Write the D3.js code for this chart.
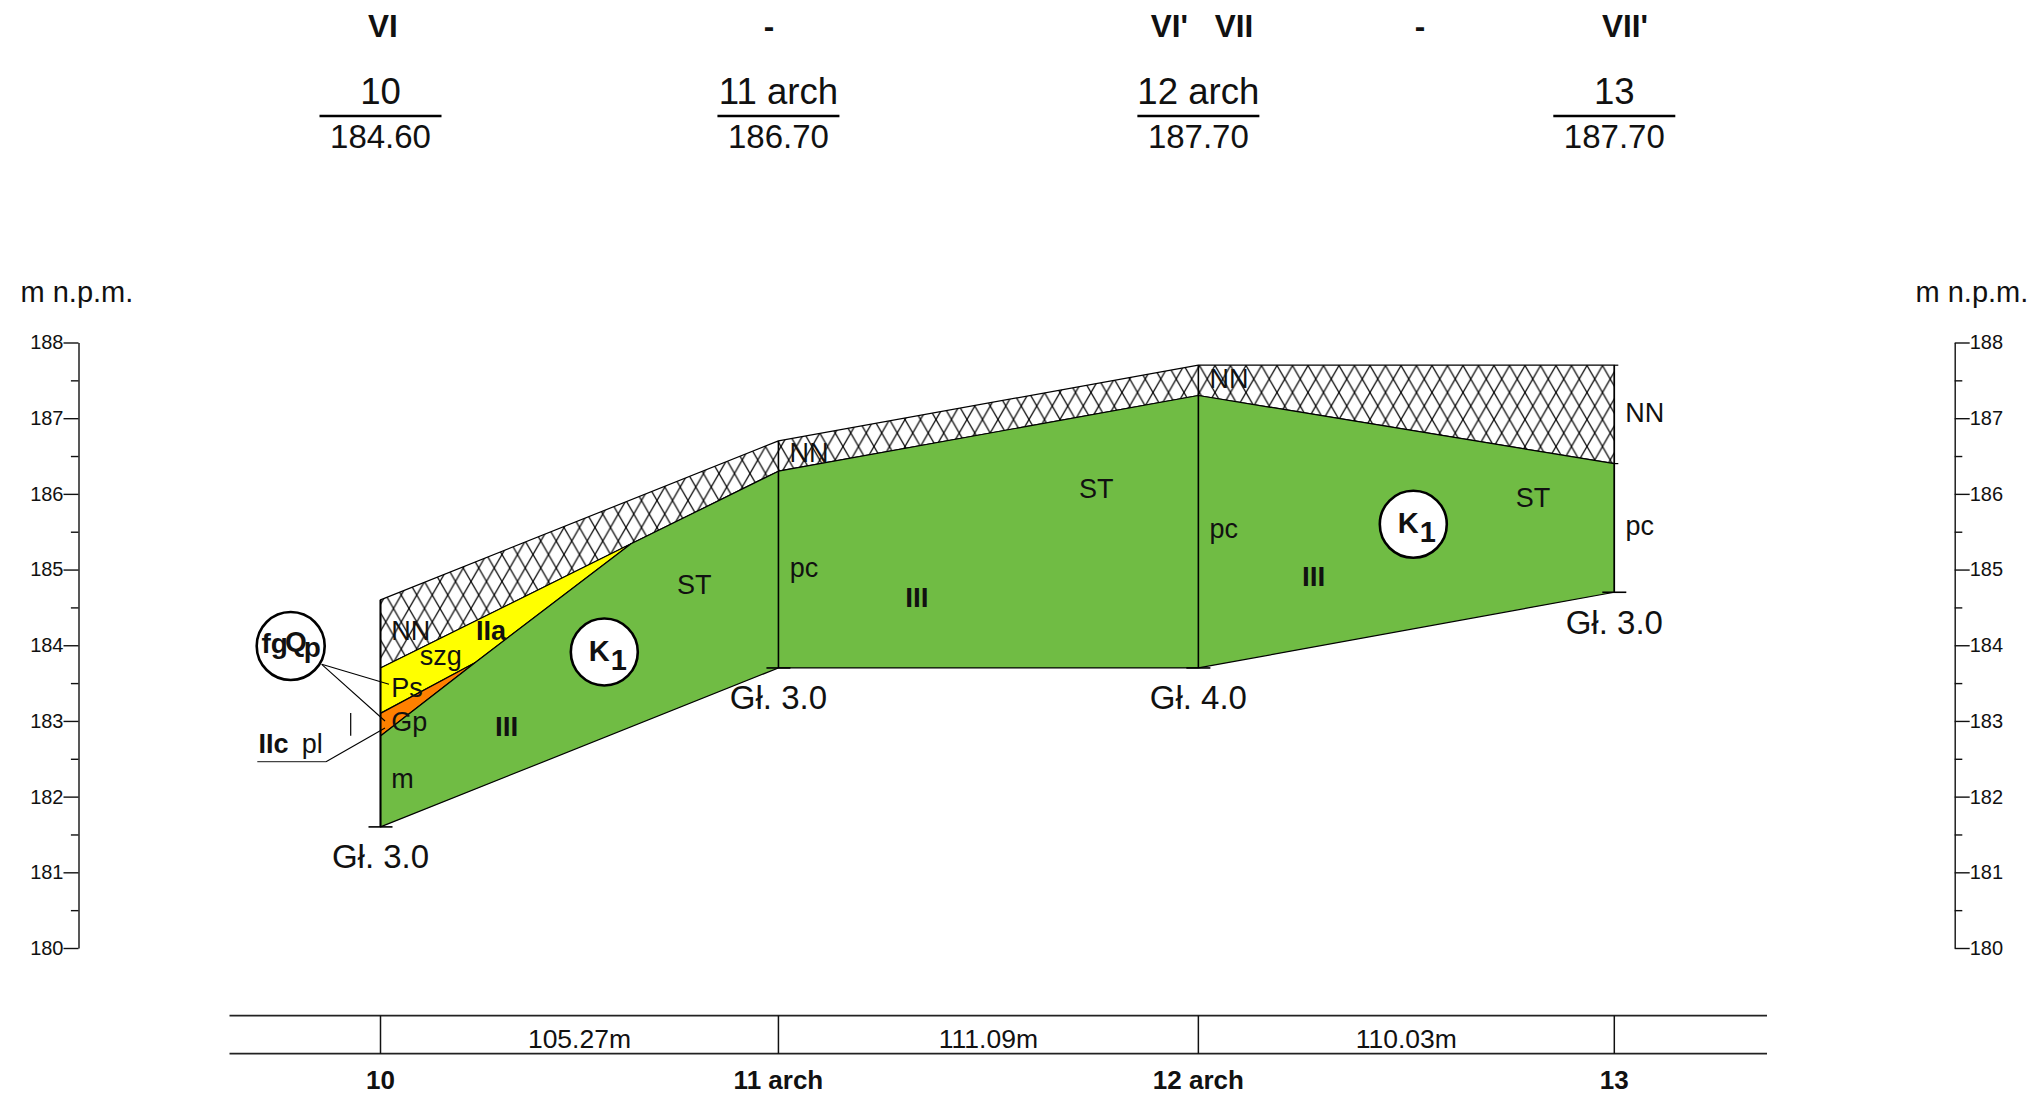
<!DOCTYPE html>
<html>
<head>
<meta charset="utf-8">
<script src="https://cdn.jsdelivr.net/npm/d3@7/dist/d3.min.js"></script>
<style>
html,body{margin:0;padding:0;background:#fff}
svg{display:block}
text{font-family:"Liberation Sans",Arial,sans-serif;fill:#111}
</style>
</head>
<body>
<svg id="c" width="2041" height="1097"></svg>
<script>
// ---- data ----
const stations = ["10","11 arch","12 arch","13"];
const elevations = ["184.60","186.70","187.70","187.70"];
const spans = [105.27,111.09,110.03];
const spanLabels = ["105.27m","111.09m","110.03m"];
const depths = ["Gł. 3.0","Gł. 3.0","Gł. 4.0","Gł. 3.0"];
const stationDist = [0,105.27,216.36,326.39];
const groundTop = [184.6,186.7,187.7,187.7];
const soilBase = [181.6,183.7,183.7,184.7];
const nnBaseDist = [0,66.3,105.27,216.36,326.39];
const nnBase = [183.7,185.34,186.3,187.3,186.4];
const yellowBaseDist = [0,25,66.3];
const yellowBase = [183.1,183.77,185.34];
const orangeBaseDist = [0,25];
const orangeBase = [182.8,183.77];
const orangeTopDist = [0,25];
const orangeTop = [183.1,183.77];
const greenTopDist = [0,25,66.3,105.27,216.36,326.39];
const greenTop = [182.8,183.77,185.34,186.3,187.3,186.4];
const axisMajor = [180,181,182,183,184,185,186,187,188];
const axisMinor = [180.5,181.5,182.5,183.5,184.5,185.5,186.5,187.5];

// ---- scales ----
const svg = d3.select("#c");
const x = d3.scaleLinear().domain([0,326.39]).range([380.5,1614.3]);
const y = d3.scaleLinear().domain([180,188]).range([948,342.5]);
const X = i => x(stationDist[i]);

function txt(s,px,py,size,opts={}){
  return svg.append("text").attr("x",px).attr("y",py)
    .attr("font-size",size)
    .attr("font-weight",opts.bold?"bold":"normal")
    .attr("text-anchor",opts.anchor||"start")
    .text(s);
}
function seg(x1,y1,x2,y2,w=1.3,c="#000"){
  svg.append("line").attr("x1",x1).attr("y1",y1).attr("x2",x2).attr("y2",y2)
    .attr("stroke",c).attr("stroke-width",w);
}

// ---- hatch pattern ----
const hw=15.5, hh=27;
const pat = svg.append("defs").append("pattern").attr("id","hatch")
  .attr("patternUnits","userSpaceOnUse").attr("width",hw).attr("height",hh)
  .attr("x",1401).attr("y",365.5);
pat.append("rect").attr("width",hw).attr("height",hh).attr("fill","#fff");
pat.append("path").attr("d",`M0 0L${hw} ${hh}M${hw} 0L0 ${hh}`).attr("stroke","#000").attr("stroke-width",1.2).attr("fill","none");

// ---- layers ----
const line = d3.line().x(p=>x(p[0])).y(p=>y(p[1]));
function layer(td,te,bd,be,fill){
  const top = td.map((d,i)=>[d,te[i]]);
  const bot = bd.map((d,i)=>[d,be[i]]).reverse();
  svg.append("path").attr("d",line(top.concat(bot))+"Z")
    .attr("fill",fill).attr("stroke","#000").attr("stroke-width",1.2).attr("stroke-linejoin","round");
}
layer(stationDist,groundTop,nnBaseDist,nnBase,"url(#hatch)");
layer(nnBaseDist.slice(0,2),nnBase.slice(0,2),yellowBaseDist,yellowBase,"#ffff00");
layer(orangeTopDist,orangeTop,orangeBaseDist,orangeBase,"#ff8000");
layer(greenTopDist,greenTop,stationDist,soilBase,"#70bc44");

// station verticals and end ticks
stations.forEach((s,i)=>{
  seg(X(i),y(groundTop[i]),X(i),y(soilBase[i]),i===0?2:1.6);
  seg(X(i)-12,y(soilBase[i]),X(i)+12,y(soilBase[i]),1.6);
  txt(depths[i],X(i),y(soilBase[i])+(i===0?41.5:i===3?42:41),33,{anchor:"middle"});
});
seg(X(3),y(groundTop[3]),X(3)+4,y(groundTop[3]),1.2);
seg(X(3),y(nnBase[4]),X(3)+4,y(nnBase[4]),1.2);

// ---- axes ----
function drawAxis(make,ax){
  const major = make(y).tickValues(axisMajor).tickSize(15).tickSizeOuter(0).tickPadding(0).tickFormat(d3.format("d"));
  const gM = svg.append("g").attr("transform",`translate(${ax},0)`).call(major);
  gM.selectAll("text").attr("font-size",20).attr("font-family",'"Liberation Sans"').attr("fill","#111");
  gM.selectAll("line,path").attr("stroke","#111").attr("stroke-width",1.4);
  const minor = make(y).tickValues(axisMinor).tickSize(7.6).tickSizeOuter(0).tickFormat("");
  const gN = svg.append("g").attr("transform",`translate(${ax},0)`).call(minor);
  gN.selectAll("line").attr("stroke","#111").attr("stroke-width",1.4);
  gN.select("path").remove();
}
drawAxis(d3.axisLeft,78.5);
drawAxis(d3.axisRight,1954.7);
txt("m n.p.m.",20.5,302.2,29);
txt("m n.p.m.",1915.5,302.2,29);

// ---- header ----
[["VI",383],["-",769],["VI'",1169.5],["VII",1234],["-",1420],["VII'",1625]].forEach(h=>txt(h[0],h[1],37,31.5,{bold:true,anchor:"middle"}));
stations.forEach((s,i)=>{
  txt(s,X(i),104,36.6,{anchor:"middle"});
  seg(X(i)-61,116,X(i)+61,116,2.4);
  txt(elevations[i],X(i),148,33,{anchor:"middle"});
});

// ---- footer table ----
seg(229.5,1015.7,1767,1015.7,1.8,"#222");
seg(229.5,1053.7,1767,1053.7,1.8,"#222");
stations.forEach((s,i)=>{
  seg(X(i),1015.7,X(i),1053.7,1.5,"#111");
  txt(s,X(i),1088.7,26,{bold:true,anchor:"middle"});
});
spanLabels.forEach((s,i)=>txt(s,(X(i)+X(i+1))/2,1048,26.5,{anchor:"middle"}));

// ---- unit labels ----
const F=27;
txt("NN",391.2,640,F); txt("Ps",391.2,696.7,F); txt("Gp",391.2,731,F); txt("m",391.2,788,F);
txt("szg",419.7,665,F);
txt("IIa",476,640,F,{bold:true});
txt("III",495,736,F+1,{bold:true});
txt("ST",677,594.3,F);
txt("NN",789.5,462,F); txt("pc",789.8,576.7,F);
txt("III",905.2,606.7,F+1,{bold:true});
txt("ST",1079,498,F);
txt("NN",1209.5,387.7,F); txt("pc",1209.5,538.3,F);
txt("III",1302,585.7,F+1,{bold:true});
txt("ST",1515.7,506.7,F);
txt("NN",1625.2,421.7,F); txt("pc",1625.4,535,F);

// leader lines
seg(321.7,664.3,389,684.3,1.1);
seg(321.7,664.3,385,721,1.1);
seg(326,761.7,385,728,1.1);
seg(257.3,761.7,326,761.7,1.2,"#444");
seg(350.7,713,350.7,735.7,1.2);
txt("IIc",258.5,752.7,F,{bold:true});
txt("pl",301.7,752.7,F);

// circles
function badge(cx,cy,r){ svg.append("circle").attr("cx",cx).attr("cy",cy).attr("r",r).attr("fill","#fff").attr("stroke","#000").attr("stroke-width",2.6); }
badge(290.7,646,34);
const fg = svg.append("text").attr("x",261.5).attr("y",653).attr("font-size",28).attr("font-weight","bold");
fg.append("tspan").text("fg");
fg.append("tspan").attr("dy",-2).attr("dx",-3).text("Q");
fg.append("tspan").attr("dy",6).attr("dx",-3).text("p");
function k1(cx,cy){
  badge(cx,cy,33.5);
  txt("K",cx-15.5,cy+9,29,{bold:true}).append("tspan").attr("dy",9).attr("dx",1).text("1");
}
k1(604.3,652);
k1(1413.3,524.3);
</script>
</body>
</html>
